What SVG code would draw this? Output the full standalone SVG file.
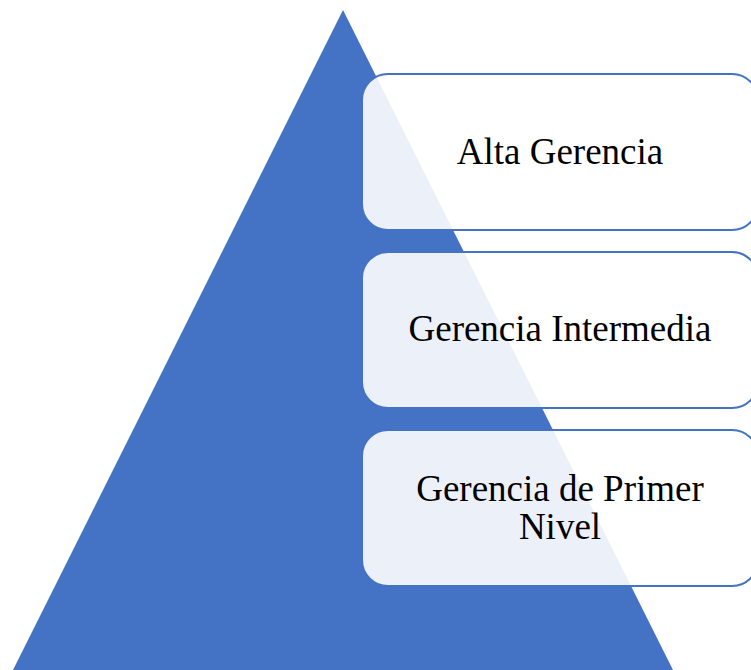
<svg xmlns="http://www.w3.org/2000/svg" width="751" height="670" viewBox="0 0 751 670">
<style>
.box{fill:#FFFFFF;fill-opacity:0.9;stroke:#4472C4;stroke-width:2}
.lbl{font-family:"Liberation Serif","Times New Roman",serif;font-size:37px;fill:#000000;text-anchor:middle}
</style>
<rect width="751" height="670" fill="#FFFFFF"/>
<g id="pyramid">
<polygon points="343,10 13,670 673,670" fill="#4472C4"/>
</g>
<g id="connectors"></g>
<g id="alta-gerencia">
<rect class="box" x="362" y="74" width="396" height="156" rx="26" ry="26"/>
<text class="lbl" x="560" y="163.5">Alta Gerencia</text>
</g>
<g id="gerencia-intermedia">
<rect class="box" x="362" y="252" width="396" height="156" rx="26" ry="26"/>
<text class="lbl" x="560" y="341">Gerencia Intermedia</text>
</g>
<g id="gerencia-primer-nivel">
<rect class="box" x="362" y="430" width="396" height="156" rx="26" ry="26"/>
<text class="lbl" x="560" y="500.5">Gerencia de Primer</text>
<text class="lbl" x="560" y="539">Nivel</text>
</g>
</svg>
